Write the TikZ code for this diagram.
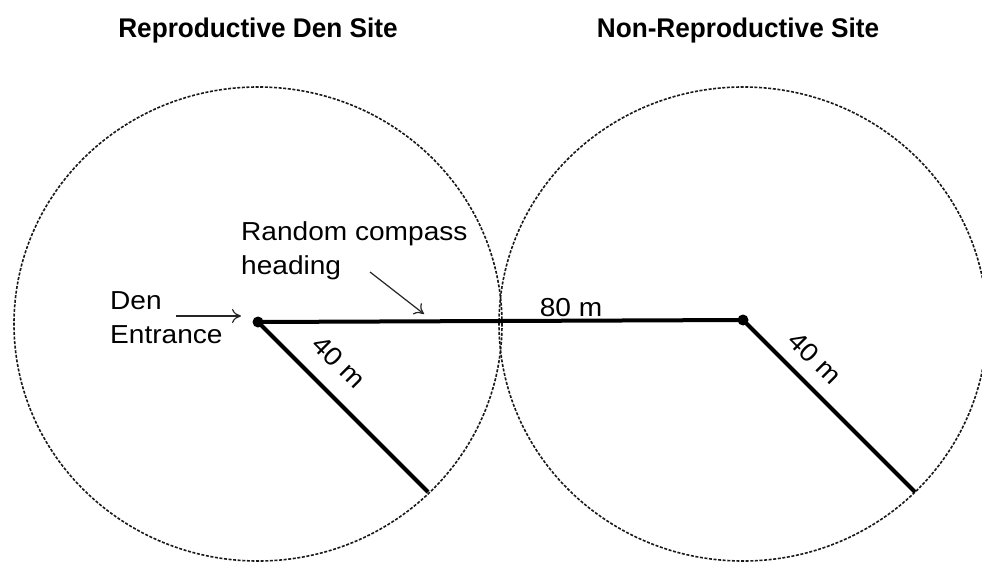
\documentclass[tikz,border=0pt]{standalone}
\usepackage{fontspec}
\setmainfont{Liberation Sans}
\newfontfamily\lblfont[FakeStretch=1.08]{Liberation Sans}
\newfontfamily\ttlfont[FakeStretch=0.97]{Liberation Sans}
\usetikzlibrary{arrows.meta}
\begin{document}
\begin{tikzpicture}[x=1pt,y=-1pt,
  site/.style={draw=black!90, line width=1.6pt, dash pattern=on 3pt off 1.6pt},
  heavy/.style={draw=black, line width=4pt},
  dot/.style={circle, fill=black, inner sep=0pt, minimum size=11pt},
  ttl/.style={font=\ttlfont\bfseries\fontsize{27}{32}\selectfont, inner sep=0pt},
  lbl/.style={font=\lblfont\fontsize{26}{34}\selectfont, inner sep=0pt, align=left},
  pointer/.style={draw=black!85, line width=1.2pt, -{To[length=9pt,width=14pt]}}]
\useasboundingbox (0,0) rectangle (982,564);
\fill[white] (0,0) rectangle (982,564);
% titles
\node[ttl] (t1) at (258,31) {Reproductive Den Site};
\node[ttl] (t2) at (738,31) {Non-Reproductive Site};
% site boundaries
\draw[site] (258,324) ellipse [x radius=244pt, y radius=237pt];
\draw[site] (743,324) ellipse [x radius=244pt, y radius=237pt];
% points
\node[dot] (den) at (258,322) {};
\node[dot] (ns) at (743,320) {};
\coordinate (e1) at (428,492);
\coordinate (e2) at (915,492);
\draw[heavy] (den.center) -- (ns.center);
\draw[heavy] (den.center) -- (e1);
\draw[heavy] (ns.center) -- (e2);
% labels
\node[lbl, anchor=west] (denlbl) at (110,318) {Den\\Entrance};
\node[lbl, anchor=west] (rch) at (241,251) {Random compass\\heading};
\node[lbl] (l80) at (571,308) {80 m};
\node[lbl, rotate=-45] (l40a) at (339,362) {40 m};
\node[lbl, rotate=-45] (l40b) at (815,358) {40 m};
% pointers
\coordinate (p1s) at (176,316);
\coordinate (p1e) at (241,316);
\coordinate (p2s) at (370,272);
\coordinate (p2e) at (424,314);
\draw[pointer] (p1s) -- (p1e);
\draw[pointer] (p2s) -- (p2e);
\end{tikzpicture}
\end{document}
